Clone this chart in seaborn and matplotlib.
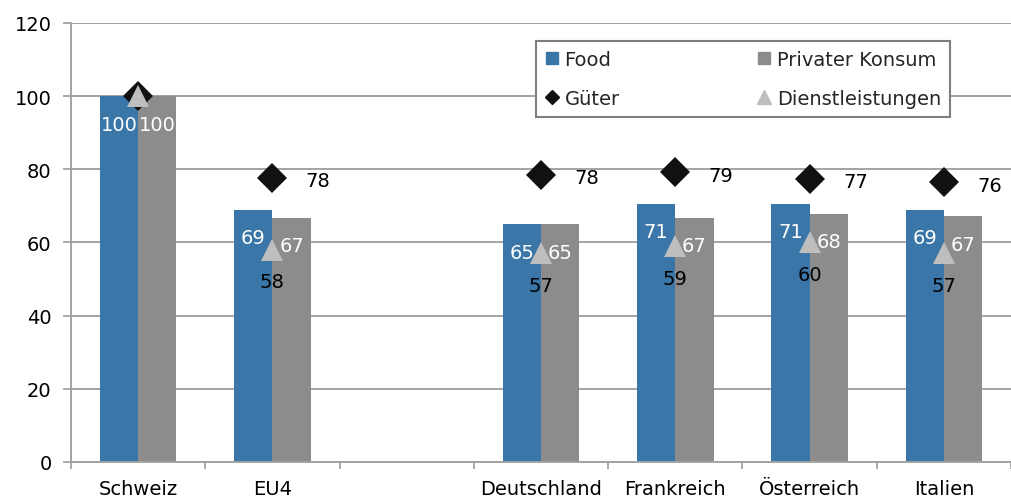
import numpy as np
import pandas as pd
import matplotlib
matplotlib.use('Agg')
import matplotlib.pyplot as plt
import seaborn as sns
from matplotlib.lines import Line2D

# Data (index Schweiz = 100)
laender = ['Schweiz', 'EU4', '', 'Deutschland', 'Frankreich', 'Österreich', 'Italien']
food = [100, 68.9, np.nan, 65.0, 70.6, 70.6, 68.9]
konsum = [100, 66.7, np.nan, 65.0, 66.7, 67.8, 67.2]
gueter = [100, 77.6, np.nan, 78.5, 79.2, 77.4, 76.4]
dienst = [100, 58.0, np.nan, 57.0, 59.0, 60.0, 57.0]

blue = '#3A76A8'
grey = '#8C8C8C'
light = '#BEBEBE'
dark = '#111111'
line_grey = '#A3A3A3'

sns.set_style('white')
plt.rcParams['font.family'] = ['DejaVu Sans']

bars = pd.DataFrame({
    'Land': laender * 2,
    'Wert': food + konsum,
    'Reihe': ['Food'] * len(laender) + ['Privater Konsum'] * len(laender),
}).dropna()
pts_g = pd.DataFrame({'Land': laender, 'Wert': gueter}).dropna()
pts_d = pd.DataFrame({'Land': laender, 'Wert': dienst}).dropna()

fig = plt.figure(figsize=(10.11, 5.02), dpi=100)
ax = fig.add_axes([0.0702, 0.0777, 0.9298, 0.8745])

sns.barplot(data=bars, x='Land', y='Wert', hue='Reihe', order=laender,
            hue_order=['Food', 'Privater Konsum'], palette=[blue, grey],
            width=0.57, gap=0, errorbar=None, legend=False, saturation=1,
            linewidth=0, ax=ax)

for cont in ax.containers:
    ax.bar_label(cont, fmt='%.0f', padding=-27, color='white', fontsize=14)

sns.pointplot(data=pts_g, x='Land', y='Wert', order=laender, color=dark,
              marker='D', linestyle='none', markersize=15, markeredgewidth=0,
              errorbar=None, ax=ax)
sns.pointplot(data=pts_d, x='Land', y='Wert', order=laender, color=light,
              marker='^', linestyle='none', markersize=16, markeredgewidth=0,
              errorbar=None, ax=ax)

# value labels for the markers (Schweiz is the base, no labels)
for i, v in enumerate(gueter):
    if i == 0 or np.isnan(v):
        continue
    ax.annotate(f'{v:.0f}', xy=(i, v), xytext=(33, -2), textcoords='offset points',
                ha='center', va='center', fontsize=14, color='black')
for i, v in enumerate(dienst):
    if i == 0 or np.isnan(v):
        continue
    ax.annotate(f'{v:.0f}', xy=(i, v), xytext=(0, -23), textcoords='offset points',
                ha='center', va='center', fontsize=14, color='black')

ax.set_ylim(0, 120)
ax.set_xlim(-0.5, len(laender) - 0.5)
ax.set_yticks(range(0, 121, 20))
ax.set_xlabel('')
ax.set_ylabel('')
ax.set_axisbelow(True)
ax.yaxis.grid(True, color=line_grey, linewidth=1.4)
ax.xaxis.grid(False)

ax.set_xticks(range(len(laender)))
ax.set_xticklabels(laender)
ax.set_xticks(np.arange(-0.5, len(laender), 1), minor=True)
ax.tick_params(axis='x', which='major', length=0, pad=12, labelsize=14, labelcolor='black')
ax.tick_params(axis='x', which='minor', length=5, width=1.3, color=line_grey, direction='out')
ax.tick_params(axis='y', length=6, width=1.3, color=line_grey, direction='out',
               labelsize=14, labelcolor='black', pad=8)
ax.yaxis.set_ticks_position('left')
ax.xaxis.set_ticks_position('bottom')

for side in ['top', 'right']:
    ax.spines[side].set_visible(False)
for side in ['left', 'bottom']:
    ax.spines[side].set_color(line_grey)
    ax.spines[side].set_linewidth(1.4)

handles = [
    Line2D([], [], marker='s', linestyle='none', color=blue, markersize=9),
    Line2D([], [], marker='D', linestyle='none', color=dark, markersize=7),
    Line2D([], [], marker='s', linestyle='none', color=grey, markersize=9),
    Line2D([], [], marker='^', linestyle='none', color=light, markersize=10),
]
labels = ['Food', 'Güter', 'Privater Konsum', 'Dienstleistungen']
leg = ax.legend(handles, labels, ncol=2, loc='upper left',
                bbox_to_anchor=(0.495, 0.763, 0.44, 0.196), mode='expand',
                borderaxespad=0, fancybox=False, framealpha=1, edgecolor='#7F7F7F',
                fontsize=14, handlelength=0.7, handletextpad=0.3,
                labelspacing=1.05, borderpad=0.45)
leg.get_frame().set_linewidth(1.5)

fig.savefig('out.png', dpi=100)
